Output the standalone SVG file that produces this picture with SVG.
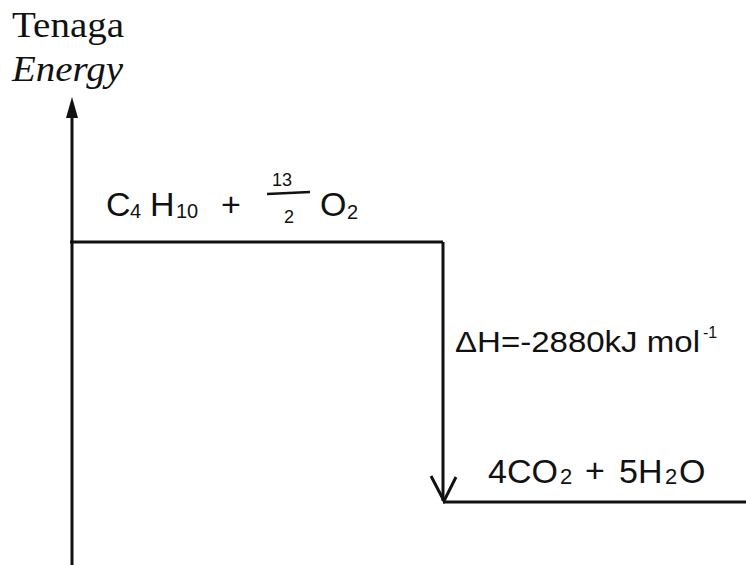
<svg xmlns="http://www.w3.org/2000/svg" width="746" height="565" viewBox="0 0 746 565">
<style>
.ax{font-family:"Liberation Serif","Times New Roman",serif;font-size:36px;fill:#111}
.hw{font-family:"Liberation Sans",Arial,sans-serif;fill:#111}
.ln{stroke:#111;stroke-width:3;fill:none}
</style>
<rect width="746" height="565" fill="#fff"/>
<g id="axis-label">
<text class="ax" x="12" y="37" textLength="112" lengthAdjust="spacingAndGlyphs">Tenaga</text>
<text class="ax" x="12" y="81" font-style="italic" textLength="111" lengthAdjust="spacingAndGlyphs">Energy</text>
</g>
<g id="connectors">
<path id="y-axis" class="ln" d="M72,565 V118"/>
<path d="M72,97 L78,118 L66,118 Z" fill="#111"/>
<path id="reactant-level" class="ln" d="M70,242 H443"/>
<path id="delta-arrow" class="ln" d="M443,242 V501"/>
<path class="ln" d="M431,476 L444,501 L456,477" stroke-width="2.5"/>
<path id="product-level" class="ln" d="M443,502 H746"/>
</g>
<g id="reactants">
<text class="hw" x="106" y="216" font-size="34">C</text>
<text class="hw" x="130" y="218" font-size="20">4</text>
<text class="hw" x="150" y="216" font-size="34">H</text>
<text class="hw" x="176" y="218" font-size="20">10</text>
<text class="hw" x="221" y="216" font-size="34">+</text>
<text class="hw" x="272" y="186" font-size="18">13</text>
<path d="M267,194 L310,192" stroke="#111" stroke-width="2.5"/>
<text class="hw" x="284" y="223" font-size="18">2</text>
<text class="hw" x="320" y="216" font-size="34">O</text>
<text class="hw" x="347" y="219" font-size="20">2</text>
</g>
<g id="delta-h">
<text class="hw" x="455" y="352" font-size="30" textLength="245" lengthAdjust="spacingAndGlyphs">ΔH=-2880kJ mol</text>
<text class="hw" x="703" y="338" font-size="16">-1</text>
</g>
<g id="products">
<text class="hw" x="488" y="483" font-size="34">4CO</text>
<text class="hw" x="560" y="484" font-size="22">2</text>
<text class="hw" x="585" y="482" font-size="34">+</text>
<text class="hw" x="619" y="483" font-size="34">5H</text>
<text class="hw" x="665" y="484" font-size="22">2</text>
<text class="hw" x="679" y="483" font-size="34">O</text>
</g>
</svg>
